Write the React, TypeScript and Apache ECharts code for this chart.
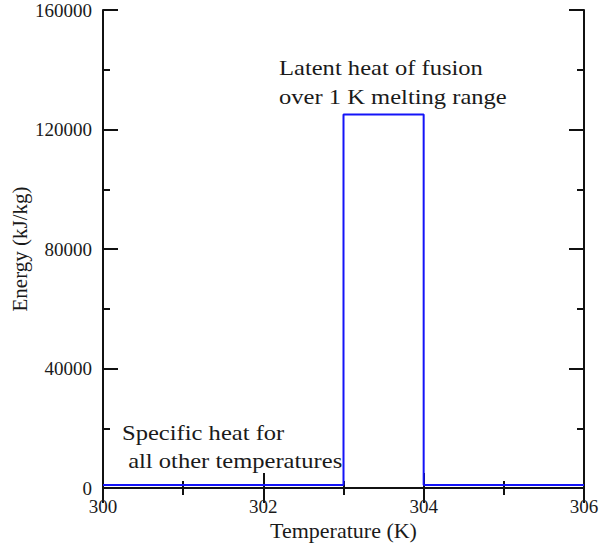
import React, { useEffect, useRef } from "react";
import * as echarts from "echarts";

const temperatures = [300, 303, 303, 304, 304, 306];
const energies = [1000, 1000, 125000, 125000, 1000, 1000];
const xTicks = { min: 300, max: 306, interval: 2 };
const yTicks = { min: 0, max: 160000, interval: 40000 };
const xTitle = "Temperature (K)";
const yTitle = "Energy (kJ/kg)";
const latentLines = ["Latent heat of fusion", "over 1 K melting range"];
const specificLines = ["Specific heat for", " all other temperatures"];

const FONT = "'Liberation Serif', 'DejaVu Serif', serif";
const INK = "#1a1a1a";

export default function App() {
  const ref = useRef<HTMLDivElement>(null);
  useEffect(() => {
    if (!ref.current) return;
    const chart = echarts.init(ref.current, undefined, { renderer: "svg" });
    const axisLine = { show: true, lineStyle: { color: "#111", width: 2 } };
    const tick = { show: true, inside: true, length: 15, lineStyle: { color: "#111", width: 2 } };
    const minor = { show: true, splitNumber: 2, length: 7, lineStyle: { color: "#111", width: 2 } };
    const lbl = { fontFamily: FONT, fontSize: 19, color: INK, formatter: (v: number) => String(v) };
    const data = temperatures.map((t, i) => [t, energies[i]]);
    const annot = (text: string, x: number, y: number) => ({
      type: "text", x, y, scaleX: 1.17, scaleY: 1,
      style: { text, font: `21px ${FONT}`, fill: INK, verticalAlign: "middle" },
    });
    chart.setOption({
      animation: false,
      backgroundColor: "#ffffff",
      grid: { left: 103, right: 15, top: 10, bottom: 62, containLabel: false, outerBoundsMode: "none" },
      xAxis: [
        {
          type: "value", position: "bottom", ...xTicks,
          axisLine, axisTick: tick, minorTick: minor, splitLine: { show: false },
          axisLabel: { ...lbl, margin: 9 },
          name: xTitle, nameLocation: "middle", nameGap: 31, nameMoveOverlap: false,
          nameTextStyle: { fontFamily: FONT, fontSize: 22, color: INK },
        },
        {
          type: "value", position: "top", ...xTicks,
          axisLine, axisTick: tick, minorTick: minor, splitLine: { show: false },
          axisLabel: { show: false },
        },
      ],
      yAxis: [
        {
          type: "value", position: "left", ...yTicks,
          axisLine, axisTick: tick, minorTick: minor, splitLine: { show: false },
          axisLabel: { ...lbl, margin: 11 },
          name: yTitle, nameLocation: "middle", nameGap: 73, nameRotate: 90, nameMoveOverlap: false,
          nameTextStyle: { fontFamily: FONT, fontSize: 21, color: INK },
        },
        {
          type: "value", position: "right", ...yTicks,
          axisLine, axisTick: tick, minorTick: minor, splitLine: { show: false },
          axisLabel: { show: false },
        },
      ],
      series: [
        {
          type: "line", xAxisIndex: 0, yAxisIndex: 0, data,
          showSymbol: false, symbol: "none",
          lineStyle: { color: "#1414f8", width: 2 }, z: 5,
        },
      ],
      graphic: [
        annot(latentLines[0], 279, 68),
        annot(latentLines[1], 279, 97),
        annot(specificLines[0], 122, 433),
        annot(specificLines[1], 122, 461),
      ],
    });
    return () => chart.dispose();
  }, []);
  return <div ref={ref} style={{ position: "fixed", left: 0, top: 0, width: 599, height: 550 }} />;
}
